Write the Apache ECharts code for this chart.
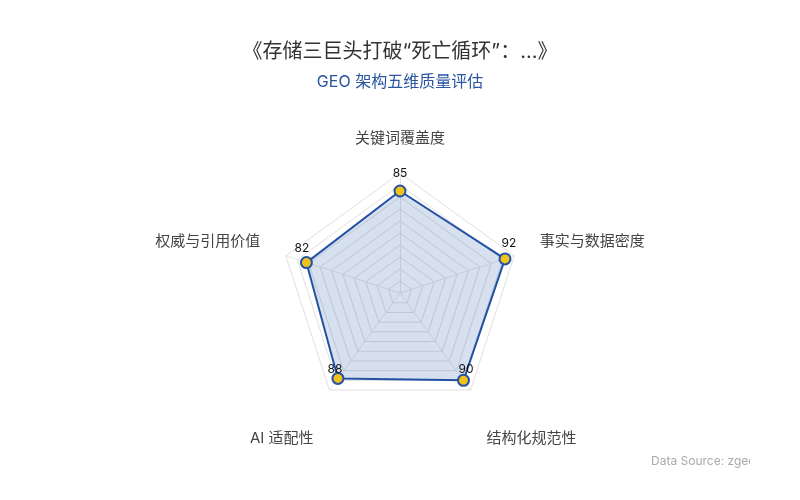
<!DOCTYPE html>
<html>
<head>
<meta charset="utf-8">
<script src="https://cdn.jsdelivr.net/npm/echarts@6/dist/echarts.min.js"></script>
<style>
html,body{margin:0;padding:0;background:#fff;}
#main{width:800px;height:500px;}
</style>
</head>
<body>
<div id="main"></div>
<script>
const titleText = '《存储三巨头打破“死亡循环”：...》';
const subtitleText = 'GEO 架构五维质量评估';
// listed in ECharts' counter-clockwise order starting at the top
const indicatorNames = ['关键词覆盖度', '权威与引用价值', 'AI 适配性', '结构化规范性', '事实与数据密度'];
const indicatorMax = [100, 100, 100, 100, 100];
const scores = [85, 82, 88, 90, 92];
const sourceText = 'Data Source: zgeo.ai';

const FONT = 'Inter, "Noto Sans CJK SC", sans-serif';
const valuePads = [[0, 0, 9, 0], [0, 9, 6, 0], [0, 6, 1, 0], [0, 0, 2, 5], [0, 0, 7, 8]];
const valueRich = {};
valuePads.forEach((p, i) => { valueRich['v' + i] = { color: '#111', fontSize: 12, fontFamily: FONT, padding: p }; });

const chart = echarts.init(document.getElementById('main'));
chart.setOption({
  backgroundColor: '#ffffff',
  title: {
    text: titleText,
    subtext: subtitleText,
    left: 'center',
    top: 37,
    itemGap: 12,
    textStyle: { fontSize: 20, fontWeight: 'normal', color: '#333333', fontFamily: FONT },
    subtextStyle: { fontSize: 16, color: '#2a55a0', fontFamily: FONT }
  },
  radar: {
    center: ['50%', 293],
    radius: 120,
    startAngle: 90,
    splitNumber: 10,
    nameGap: 27,
    indicator: indicatorNames.map((n, i) => ({ name: n, max: indicatorMax[i], min: 0 })),
    axisName: {
      color: '#444444', fontSize: 15, fontFamily: FONT,
      formatter: function (name) {
        const i = indicatorNames.indexOf(name);
        if (i === 2 || i === 3) return '{b|' + name + '}';
        if (i === 1 || i === 4) return '{u|' + name + '}';
        return name;
      },
      rich: {
        b: { color: '#444444', fontSize: 15, fontFamily: FONT, padding: [54, 0, 0, 0] },
        u: { color: '#444444', fontSize: 15, fontFamily: FONT, padding: [0, 0, 13, 0] }
      }
    },
    axisLine: { lineStyle: { color: '#e6e6e6' } },
    splitLine: { lineStyle: { color: '#e0e0e0', width: 1 } },
    splitArea: { show: false }
  },
  series: [{
    type: 'radar',
    symbol: 'circle',
    symbolSize: 11,
    lineStyle: { color: '#2352a5', width: 2 },
    itemStyle: { color: '#f2c21b', borderColor: '#2352a5', borderWidth: 2 },
    areaStyle: { color: 'rgba(35,82,165,0.26)' },
    label: {
      show: true, position: 'top', distance: -4, color: '#111', fontSize: 12, fontFamily: FONT,
      formatter: function (p) {
        let v = p.value;
        let i;
        if (Array.isArray(v)) { i = p.dimensionIndex != null ? p.dimensionIndex : 0; v = v[i]; }
        else { i = scores.indexOf(v); }
        return '{v' + i + '|' + v + '}';
      },
      rich: valueRich
    },
    data: [{ value: scores, name: 'GEO' }]
  }],
  graphic: [
    { type: 'text', left: 651, top: 455, style: { text: sourceText, fill: '#aaaaaa', fontSize: 12, fontFamily: FONT }, z: 10 },
    { type: 'rect', left: 750, top: 440, shape: { width: 50, height: 40 }, style: { fill: '#ffffff' }, z: 11 }
  ]
});
</script>
</body>
</html>
